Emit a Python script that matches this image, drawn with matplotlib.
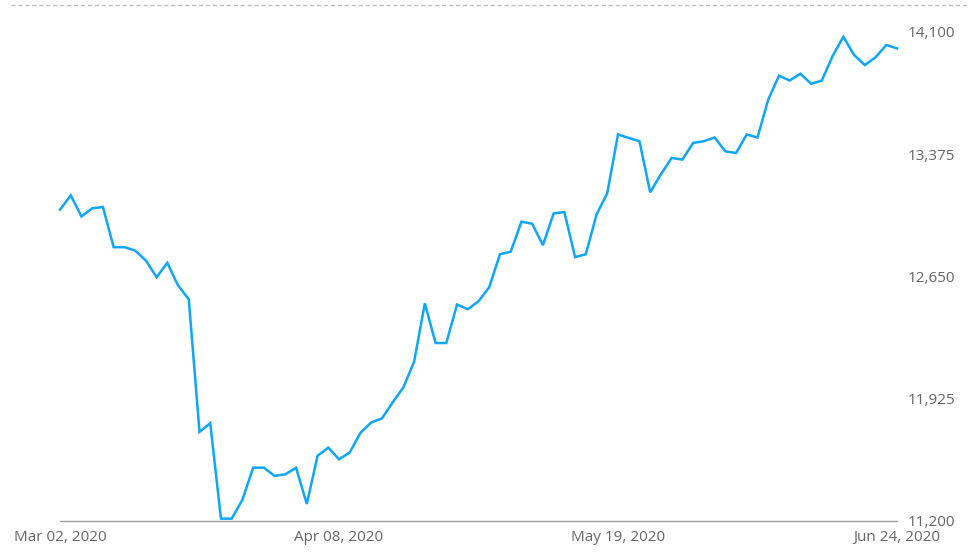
"""Index price line, Mar - Jun 2020
"""
import matplotlib
matplotlib.use('Agg')
import matplotlib.pyplot as plt
from matplotlib.lines import Line2D
from matplotlib.ticker import FuncFormatter

# closing values, one per trading day
prices = [
    13045, 13130, 13005, 13053, 13061, 12823, 12823, 12803, 12744, 12645,
    12730, 12596, 12514, 11728, 11780, 11214, 11214, 11326, 11516, 11516,
    11467, 11477, 11515, 11301, 11586, 11635, 11566, 11606, 11723, 11784,
    11808, 11903, 11992, 12144, 12490, 12255, 12255, 12483, 12455, 12502,
    12586, 12781, 12796, 12974, 12962, 12835, 13023, 13031, 12764, 12781,
    13016, 13144, 13491, 13470, 13451, 13148, 13255, 13352, 13342, 13441,
    13451, 13473, 13391, 13381, 13491, 13473, 13698, 13839, 13811, 13851,
    13791, 13811, 13956, 14070, 13962, 13902, 13948, 14021, 14001,
]
date_labels = ['Mar 02, 2020', 'Apr 08, 2020', 'May 19, 2020', 'Jun 24, 2020']
date_label_idx = [0, 26, 52, 78]
y_ticks = [11200, 11925, 12650, 13375, 14100]

plt.rcParams['font.family'] = ['Open Sans', 'DejaVu Sans']

fig = plt.figure(figsize=(9.78, 5.55), dpi=100)
ax = fig.add_axes([60 / 978, 34 / 555, 837 / 978, 489.3 / 555])

ax.plot(range(len(prices)), prices, color='#0fa6f7', lw=1.8,
        solid_joinstyle='miter', clip_on=False)

ax.set_xlim(0, len(prices) - 1)
ax.set_ylim(y_ticks[0], y_ticks[-1])

ax.set_xticks(date_label_idx)
ax.set_xticklabels(date_labels)
ax.set_yticks(y_ticks)
ax.yaxis.set_major_formatter(FuncFormatter(lambda v, p: f'{v:,.0f}'))
ax.yaxis.tick_right()
ax.tick_params(axis='both', length=0, labelsize=11, labelcolor='#666666')
ax.tick_params(axis='x', pad=6.5)
ax.tick_params(axis='y', pad=8)

for side in ['top', 'left', 'right']:
    ax.spines[side].set_visible(False)
ax.spines['bottom'].set_color('#a0a0a0')
ax.spines['bottom'].set_linewidth(1.0)

# dashed line across the top
fig.add_artist(Line2D([11 / 978, 968 / 978], [550 / 555, 550 / 555],
                      color='#bdbdbd', lw=1.0, ls=(0, (3, 2))))

fig.savefig('out.png', dpi=100)
